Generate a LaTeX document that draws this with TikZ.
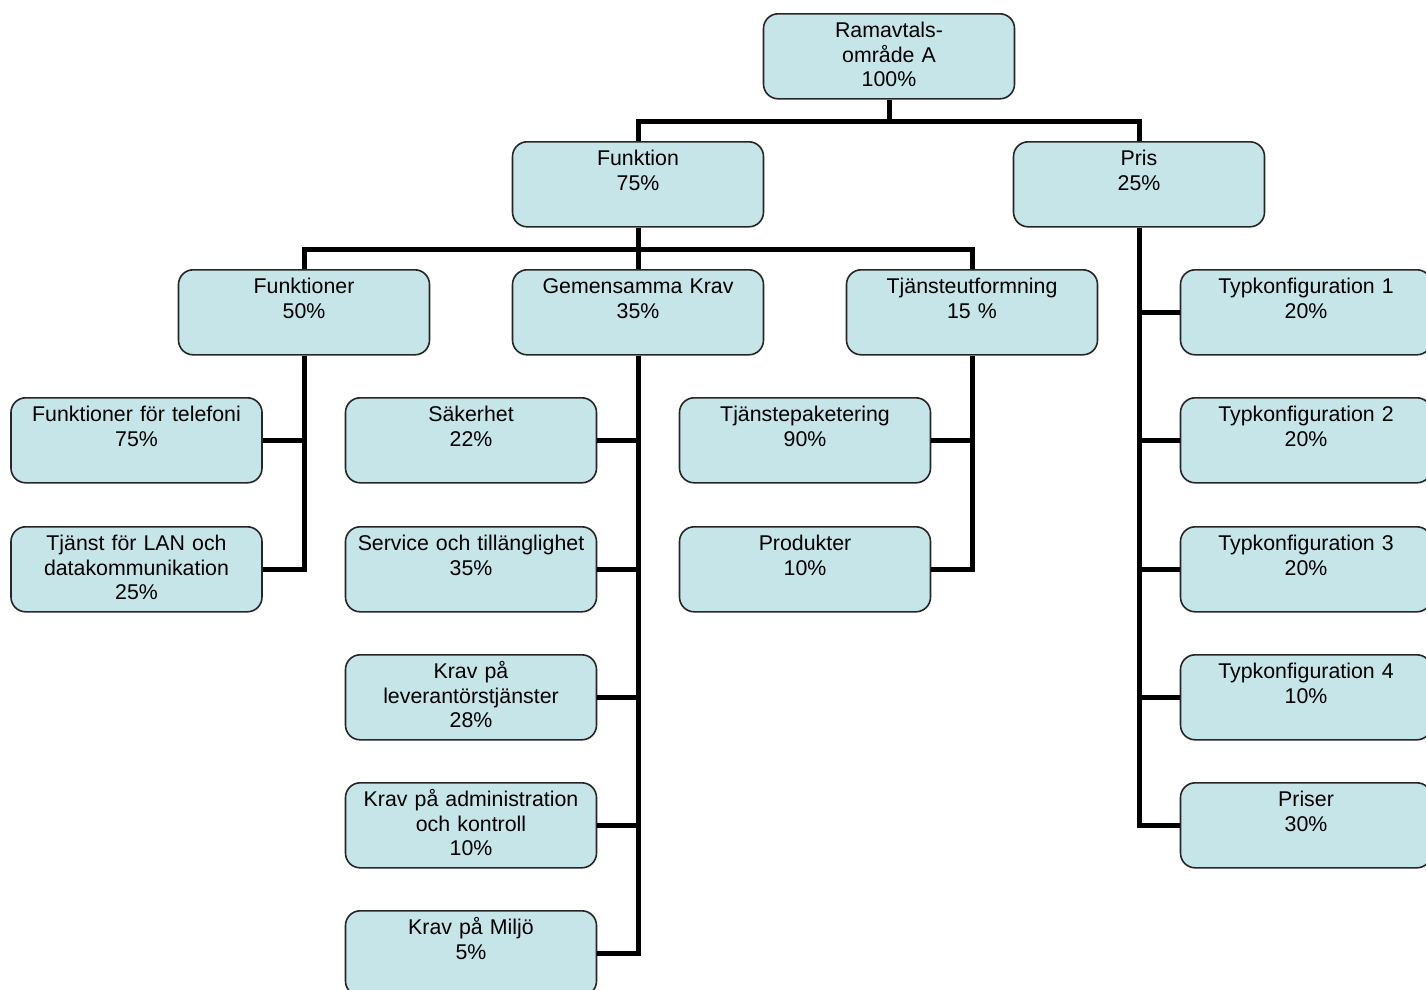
\documentclass[tikz,border=0pt]{standalone}
\usepackage{fontspec}
\setmainfont{Liberation Sans}
\definecolor{boxfill}{RGB}{197,229,232}

\begin{document}
\begin{tikzpicture}[x=0.75pt,y=-0.75pt,
    blk/.style={draw=black!85, line width=1.2pt, fill=boxfill, rounded corners=11pt,
      anchor=north, inner sep=0pt, text width=188.25pt, align=center,
      text height=18pt, text depth=45.75pt, font=\fontsize{16pt}{18.4pt}\selectfont},
    conn/.style={line width=3.75pt, black}]
    \useasboundingbox (0,0) rectangle (1426,989);
    % top
    \node[blk] (root) at (889,13) {Ramavtals-\\område A\\100\%};
    \node[blk] (funktion) at (638,141) {Funktion\\75\%};
    \node[blk] (pris) at (1139,141) {Pris\\25\%};
    % second level
    \node[blk] (funktioner) at (304,269) {Funktioner\\50\%};
    \node[blk] (gemensamma) at (638,269) {Gemensamma Krav\\35\%};
    \node[blk] (utformning) at (972,269) {Tjänsteutformning\\15 \%};
    % leaves
    \node[blk] (telefoni) at (136.5,397) {Funktioner för telefoni\\75\%};
    \node[blk] (lan) at (136.5,526) {Tjänst för LAN och\\datakommunikation\\25\%};
    \node[blk] (sakerhet) at (471,397) {Säkerhet\\22\%};
    \node[blk] (service) at (471,526) {Service och tillänglighet\\35\%};
    \node[blk] (leverantor) at (471,654) {Krav på\\leverantörstjänster\\28\%};
    \node[blk] (admin) at (471,782) {Krav på administration\\och kontroll\\10\%};
    \node[blk] (miljo) at (471,910) {Krav på Miljö\\5\%};
    \node[blk] (paket) at (805,397) {Tjänstepaketering\\90\%};
    \node[blk] (produkter) at (805,526) {Produkter\\10\%};
    \node[blk] (typ1) at (1306,269) {Typkonfiguration 1\\20\%};
    \node[blk] (typ2) at (1306,397) {Typkonfiguration 2\\20\%};
    \node[blk] (typ3) at (1306,526) {Typkonfiguration 3\\20\%};
    \node[blk] (typ4) at (1306,654) {Typkonfiguration 4\\10\%};
    \node[blk] (priser) at (1306,782) {Priser\\30\%};
    % connectors
    \draw[conn] (root.south) -- ++(0,21.5) -| (funktion.north);
    \draw[conn] (root.south) -- ++(0,21.5) -| (pris.north);
    \draw[conn] (funktion.south) -- ++(0,21.5) -| (funktioner.north);
    \draw[conn] (funktion.south) -- ++(0,21.5) -| (utformning.north);
    \draw[conn] (funktion.south) -- (gemensamma.north);
    \foreach \leaf in {typ1,typ2,typ3,typ4,priser}
      \draw[conn] (pris.south) |- (\leaf.west);
    \foreach \leaf in {telefoni,lan}
      \draw[conn] (funktioner.south) |- (\leaf.east);
    \foreach \leaf in {sakerhet,service,leverantor,admin,miljo}
      \draw[conn] (gemensamma.south) |- (\leaf.east);
    \foreach \leaf in {paket,produkter}
      \draw[conn] (utformning.south) |- (\leaf.east);
\end{tikzpicture}
\end{document}
